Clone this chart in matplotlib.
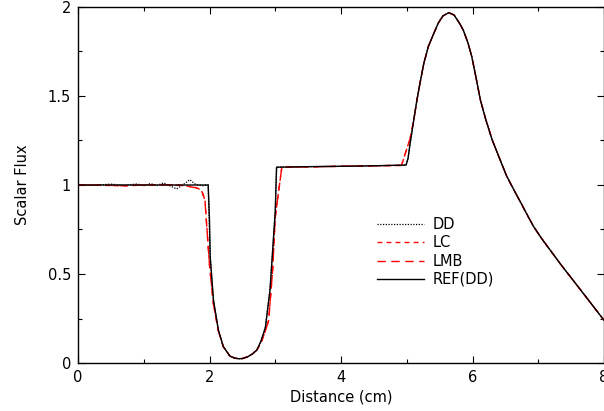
import matplotlib
matplotlib.use("Agg")
import matplotlib.pyplot as plt
from matplotlib.ticker import MultipleLocator

# Part of the profile (x >= 5.1) where all solutions coincide
tail_x = [5.10, 5.155, 5.2, 5.26, 5.33, 5.41, 5.48, 5.55, 5.64, 5.72, 5.8, 5.86, 5.93,
          5.99, 6.05, 6.12, 6.2, 6.3, 6.4, 6.52, 6.63, 6.75, 6.85, 6.93, 7.05, 7.18,
          7.35, 7.54, 7.75, 8.0]
tail_y = [1.35, 1.478, 1.57, 1.684, 1.78, 1.85, 1.91, 1.95, 1.968, 1.955, 1.91, 1.87,
          1.80, 1.72, 1.61, 1.478, 1.37, 1.253, 1.16, 1.05, 0.972, 0.89, 0.82, 0.766,
          0.70, 0.635, 0.55, 0.46, 0.36, 0.24]

# Reference (fine mesh) solution, x < 5.1
ref_x = [0.0, 0.5, 1.0, 1.5, 1.98, 2.0, 2.01, 2.06, 2.135, 2.21, 2.31, 2.38, 2.44, 2.5,
         2.58, 2.65, 2.72, 2.78, 2.85, 2.92, 2.96, 3.0, 3.02, 3.5, 4.0, 4.5, 4.99, 5.02,
         5.05]
ref_y = [1.0, 1.0, 1.0, 1.0, 1.0, 0.8, 0.6, 0.354, 0.185, 0.092, 0.039, 0.028, 0.024,
         0.025, 0.035, 0.05, 0.073, 0.12, 0.20, 0.41, 0.63, 0.85, 1.10, 1.103, 1.105,
         1.108, 1.112, 1.15, 1.23]

# DD solution (coarse mesh, with oscillations), x < 5.1
dd_x = [0.0, 0.3, 0.5, 0.7, 0.9, 1.0, 1.1, 1.2, 1.3, 1.4, 1.5, 1.6, 1.7, 1.8, 1.9,
        1.98, 2.01, 2.06, 2.135, 2.21, 2.31, 2.38, 2.44, 2.5, 2.58, 2.65, 2.72, 2.78,
        2.85, 2.92, 2.96, 3.0, 3.02, 3.5, 4.0, 4.5, 4.99, 5.02, 5.05]
dd_y = [1.0, 1.0, 1.005, 0.998, 1.006, 0.996, 1.008, 0.997, 1.012, 0.995, 0.978, 1.002,
        1.03, 1.0, 0.996, 1.0, 0.6, 0.354, 0.185, 0.092, 0.039, 0.028, 0.024, 0.025,
        0.035, 0.05, 0.073, 0.12, 0.20, 0.41, 0.63, 0.85, 1.10, 1.103, 1.105, 1.108,
        1.112, 1.15, 1.23]

# LC solution, x < 5.1
lc_x = [0.0, 0.4, 0.7, 1.0, 1.3, 1.6, 1.8, 1.88, 1.93, 2.0, 2.06, 2.135, 2.21, 2.31,
        2.38, 2.44, 2.5, 2.58, 2.65, 2.72, 2.78, 2.85, 2.9, 2.96, 3.0, 3.1, 3.5, 4.0,
        4.5, 4.92, 5.05]
lc_y = [1.0, 0.998, 0.995, 1.0, 1.002, 0.998, 0.985, 0.97, 0.92, 0.55, 0.33, 0.18,
        0.092, 0.039, 0.028, 0.024, 0.025, 0.035, 0.05, 0.073, 0.11, 0.18, 0.24, 0.52,
        0.82, 1.10, 1.102, 1.105, 1.108, 1.11, 1.26]

# LMB solution, x < 5.1
lmb_x = [0.0, 0.4, 0.7, 1.0, 1.3, 1.6, 1.8, 1.88, 1.93, 2.0, 2.06, 2.135, 2.21, 2.31,
         2.38, 2.44, 2.5, 2.58, 2.65, 2.72, 2.78, 2.85, 2.9, 2.96, 3.0, 3.1, 3.5, 4.0,
         4.5, 4.92, 5.05]
lmb_y = [1.0, 0.999, 0.996, 1.0, 1.001, 0.997, 0.984, 0.968, 0.915, 0.55, 0.33, 0.18,
         0.092, 0.039, 0.028, 0.024, 0.025, 0.035, 0.05, 0.073, 0.11, 0.18, 0.24, 0.52,
         0.82, 1.10, 1.102, 1.105, 1.108, 1.11, 1.26]

labels = ["DD", "LC", "LMB", "REF(DD)"]
x_ticks = [0, 2, 4, 6, 8]
y_ticks = [0, 0.5, 1, 1.5, 2]
y_tick_labels = ["0", "0.5", "1", "1.5", "2"]

plt.rcParams['font.family'] = ['DejaVu Sans']

fig = plt.figure(figsize=(6.04, 4.11), dpi=100)
ax = fig.add_axes([78 / 604, 1 - 363 / 411, 526 / 604, 356 / 411])

ax.plot(dd_x + tail_x, dd_y + tail_y, color='black', lw=0.9, linestyle=(0, (1, 1.2)),
        label=labels[0])
ax.plot(lc_x + tail_x, lc_y + tail_y, color='#ff0000', lw=1.0, linestyle=(0, (3.5, 3)),
        label=labels[1])
ax.plot(lmb_x + tail_x, lmb_y + tail_y, color='#ff0000', lw=1.0, linestyle=(0, (6, 4)),
        label=labels[2])
ax.plot(ref_x + tail_x, ref_y + tail_y, color='black', lw=1.0, label=labels[3])

ax.set_xlim(0, 8)
ax.set_ylim(0, 2)
ax.set_xticks(x_ticks)
ax.set_xticklabels([str(v) for v in x_ticks])
ax.set_yticks(y_ticks)
ax.set_yticklabels(y_tick_labels)
ax.xaxis.set_minor_locator(MultipleLocator(1))
ax.yaxis.set_minor_locator(MultipleLocator(0.25))
ax.tick_params(which='both', direction='in', top=True, right=True, labelsize=10.5,
               width=0.8)
ax.tick_params(which='major', length=5, pad=5)
ax.tick_params(which='minor', length=3)
for s in ax.spines.values():
    s.set_linewidth(1.0)

ax.set_xlabel("Distance (cm)", fontsize=10.5, labelpad=3)
ax.set_ylabel("Scalar Flux", fontsize=10.5, labelpad=13)

leg = ax.legend(loc='upper left', bbox_to_anchor=(0.555, 0.43), frameon=False,
                fontsize=10.5, handlelength=3.2, handletextpad=0.6, labelspacing=0.22,
                borderpad=0)

fig.savefig("out.png", dpi=100)
